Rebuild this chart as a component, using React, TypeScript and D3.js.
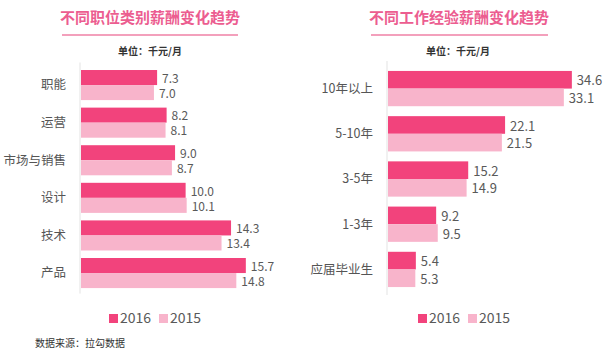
import React, { useEffect, useRef } from "react";
import * as d3 from "d3";

const series = ["2016", "2015"];
const colors = ["#F2437C", "#F8B4CB"];

const jobCategories = ["职能", "运营", "市场与销售", "设计", "技术", "产品"];
const job2016 = [7.3, 8.2, 9.0, 10.0, 14.3, 15.7];
const job2015 = [7.0, 8.1, 8.7, 10.1, 13.4, 14.8];

const expCategories = ["10年以上", "5-10年", "3-5年", "1-3年", "应届毕业生"];
const exp2016 = [34.6, 22.1, 15.2, 9.2, 5.4];
const exp2015 = [33.1, 21.5, 14.9, 9.5, 5.3];

const font = '"Noto Sans CJK SC", "Microsoft YaHei", sans-serif';

interface PanelCfg {
	title: string;
	titleX: number;
	lineX: [number, number];
	unitX: number;
	categories: string[];
	values: number[][];
	xDomain: number;
	xRange: [number, number];
	yRange: [number, number];
	padding: number;
	valueSize: number;
	legendX: number;
}

const App = () => {
	const ref = useRef<SVGSVGElement>(null);

	useEffect(() => {
		const svg = d3.select(ref.current);
		svg.selectAll("*").remove();

		const panels: PanelCfg[] = [
			{
				title: "不同职位类别薪酬变化趋势",
				titleX: 150,
				lineX: [62, 238],
				unitX: 150,
				categories: jobCategories,
				values: [job2016, job2015],
				xDomain: 16,
				xRange: [80, 249],
				yRange: [62.5, 295.6],
				padding: 0.2,
				valueSize: 12,
				legendX: 109,
			},
			{
				title: "不同工作经验薪酬变化趋势",
				titleX: 459,
				lineX: [371, 548],
				unitX: 458,
				categories: expCategories,
				values: [exp2016, exp2015],
				xDomain: 35,
				xRange: [387, 574],
				yRange: [61, 297],
				padding: 0.22,
				valueSize: 13,
				legendX: 418,
			},
		];

		panels.forEach((p) => {
			const g = svg.append("g");

			// title
			g.append("text")
				.attr("x", p.titleX)
				.attr("y", 23)
				.attr("text-anchor", "middle")
				.attr("font-family", font)
				.attr("font-size", 15)
				.attr("font-weight", "bold")
				.attr("fill", "#EC5D90")
				.text(p.title);

			g.append("line")
				.attr("x1", p.lineX[0])
				.attr("x2", p.lineX[1])
				.attr("y1", 35)
				.attr("y2", 35)
				.attr("stroke", "#F3A0BC")
				.attr("stroke-width", 2);

			g.append("text")
				.attr("x", p.unitX)
				.attr("y", 55)
				.attr("text-anchor", "middle")
				.attr("font-family", font)
				.attr("font-size", 10)
				.attr("font-weight", "bold")
				.attr("fill", "#333")
				.text("单位：千元/月");

			const x = d3.scaleLinear().domain([0, p.xDomain]).range(p.xRange);
			const y = d3.scaleBand<string>().domain(p.categories).range(p.yRange).padding(p.padding);
			const inner = d3.scaleBand<string>().domain(series).range([0, y.bandwidth()]);

			// axis line
			g.append("line")
				.attr("x1", x(0))
				.attr("x2", x(0))
				.attr("y1", p.yRange[0])
				.attr("y2", p.yRange[1] - 2)
				.attr("stroke", "#E3E3E3")
				.attr("stroke-width", 1);

			// category labels
			g.selectAll("text.cat")
				.data(p.categories)
				.enter()
				.append("text")
				.attr("class", "cat")
				.attr("x", x(0) - 14)
				.attr("y", (d) => (y(d) as number) + y.bandwidth() / 2)
				.attr("dy", "0.35em")
				.attr("text-anchor", "end")
				.attr("font-family", font)
				.attr("font-size", 12.5)
				.attr("fill", "#555")
				.text((d) => d);

			series.forEach((s, si) => {
				const rows = p.categories.map((c, i) => ({ c, v: p.values[si][i] }));
				g.selectAll(`rect.s${si}`)
					.data(rows)
					.enter()
					.append("rect")
					.attr("class", `s${si}`)
					.attr("x", x(0) + 1)
					.attr("y", (d) => (y(d.c) as number) + (inner(s) as number))
					.attr("width", (d) => x(d.v) - x(0) - 1)
					.attr("height", inner.bandwidth())
					.attr("fill", colors[si]);

				g.selectAll(`text.v${si}`)
					.data(rows)
					.enter()
					.append("text")
					.attr("class", `v${si}`)
					.attr("x", (d) => x(d.v) + 5)
					.attr("y", (d) => (y(d.c) as number) + (inner(s) as number) + inner.bandwidth() / 2 + 1)
					.attr("dy", "0.35em")
					.attr("font-family", font)
					.attr("font-size", p.valueSize)
					.attr("fill", "#595959")
					.text((d) => d.v.toFixed(1));
			});

			// legend
			const lg = g.append("g").attr("transform", `translate(${p.legendX}, 318)`);
			series.forEach((s, si) => {
				const item = lg.append("g").attr("transform", `translate(${si * 50}, 0)`);
				item.append("rect")
					.attr("x", 0)
					.attr("y", -4)
					.attr("width", 9)
					.attr("height", 9)
					.attr("fill", colors[si]);
				item.append("text")
					.attr("x", 11)
					.attr("y", 0)
					.attr("dy", "0.35em")
					.attr("font-family", font)
					.attr("font-size", 14)
					.attr("fill", "#595959")
					.text(s);
			});
		});

		svg.append("text")
			.attr("x", 35)
			.attr("y", 347)
			.attr("font-family", font)
			.attr("font-size", 10)
			.attr("fill", "#333")
			.text("数据来源：拉勾数据");
	}, []);

	return (
		<svg
			ref={ref}
			width={610}
			height={362}
			style={{ position: "absolute", left: 0, top: 0, background: "#fff" }}
		/>
	);
};

export default App;
